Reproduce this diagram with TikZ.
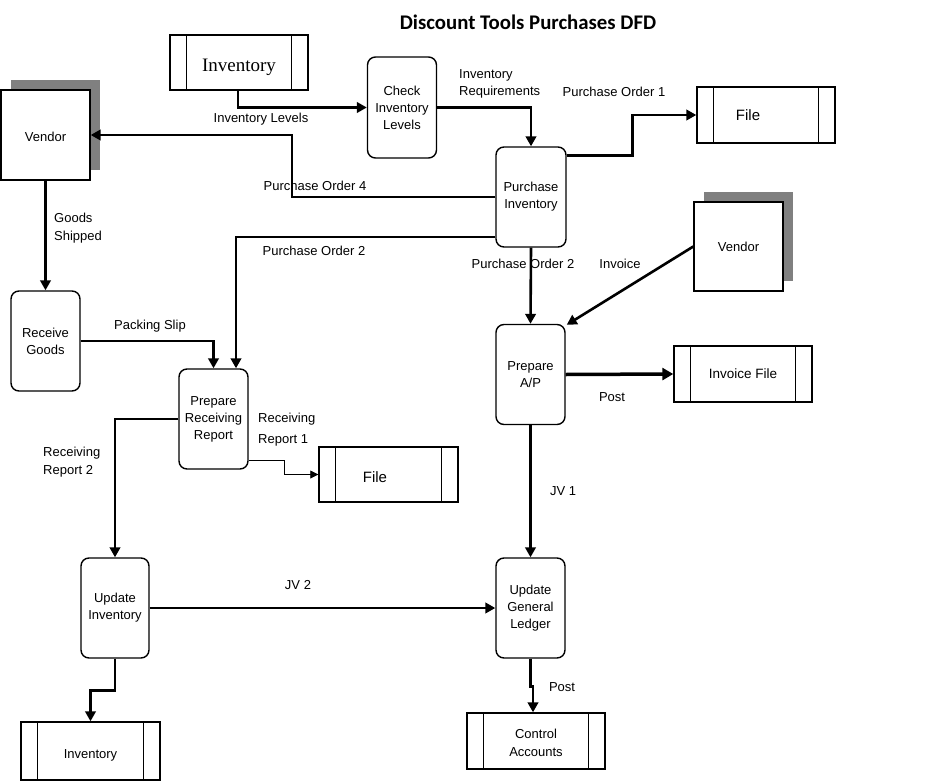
\documentclass[tikz,border=0pt]{standalone}
\usepackage{fontspec}
\setmainfont{Liberation Sans}
\newfontfamily\titlefont{Carlito}
\newfontfamily\serifinv{Liberation Serif}
\usetikzlibrary{arrows.meta,shadows,calc}
\definecolor{shadowgray}{RGB}{128,128,128}
\newcommand{\lowerby}[2]{\raisebox{-#1}[\height][\depth]{#2}}
\tikzset{
  base/.style={draw, line width=1.4pt, inner sep=0pt, align=center, font=\fontsize{13}{17}\selectfont},
  proc/.style={base, rounded corners=8pt, minimum width=69pt, minimum height=100pt},
  extent/.style={base, fill=white, minimum width=89pt, minimum height=89pt,
     general shadow={fill=shadowgray, shadow xshift=10pt, shadow yshift=10pt}},
  store/.style={base, minimum width=138pt, minimum height=56pt,
     path picture={
       \draw[line width=1.4pt] ([xshift=16.5pt]path picture bounding box.north west) -- ([xshift=16.5pt]path picture bounding box.south west);
       \draw[line width=1.4pt] ([xshift=-16.5pt]path picture bounding box.north east) -- ([xshift=-16.5pt]path picture bounding box.south east);
     }},
  flow/.style={line width=2.6pt, -{Triangle[length=10pt,width=10.5pt]}},
  thinflow/.style={line width=0.8pt, -{Triangle[length=8pt,width=8pt]}},
  lbl/.style={inner sep=0pt, font=\fontsize{13}{19}\selectfont},
}
\begin{document}
\begin{tikzpicture}[x=1pt,y=-1pt]
\useasboundingbox (0,0) rectangle (936,781);
% title
\node[inner sep=0pt, font=\titlefont\bfseries\fontsize{20.8}{22}\selectfont] (title) at (528,22) {Discount Tools Purchases DFD};
% nodes
\node[store, minimum width=138pt, minimum height=55pt, font=\serifinv\fontsize{19}{20}\selectfont] (invTop) at (239,62.5) {\lowerby{5pt}{Inventory}};
\node[extent, minimum width=89pt, minimum height=90pt] (vendL) at (45.5,135) {\lowerby{2pt}{Vendor}};
\node[proc, minimum height=101pt] (check) at (402,107.5) {Check\\Inventory\\Levels};
\node[proc, minimum width=70pt] (purch) at (531,197) {Purchase\\Inventory};
\node[store, font=\fontsize{15}{17}\selectfont] (file1) at (766,115) {\hspace*{-36pt}File};
\node[extent] (vendR) at (738.5,246.5) {Vendor};
\node[proc] (recv) at (45.5,341) {Receive\\Goods};
\node[proc] (prr) at (213.5,419) {Prepare\\Receiving\\Report};
\node[store, minimum width=139pt, minimum height=55pt, font=\fontsize{15}{17}\selectfont] (file2) at (388.5,474.5) {\hspace*{-27pt}\lowerby{3pt}{File}};
\node[proc] (prepAP) at (530.5,374.5) {Prepare\\A/P};
\node[store, font=\fontsize{13.5}{17}\selectfont] (invfile) at (743,374) {Invoice File};
\node[proc, minimum width=68pt] (updInv) at (115,608) {Update\\Inventory};
\node[proc] (ugl) at (530.5,608) {Update\\General\\Ledger};
\node[store, minimum width=139pt, minimum height=58pt] (invBot) at (90.5,751) {\lowerby{4pt}{Inventory}};
\node[store, font=\fontsize{13}{18}\selectfont] (ctrl) at (536,741) {\lowerby{3pt}{\begin{tabular}{@{}c@{}}Control\\Accounts\end{tabular}}};
% connectors
\draw[flow] ([xshift=-1pt]invTop.south) |- (check.west);
\draw[flow] (check.east) -| (purch.north);
\draw[flow] ([yshift=-9pt]purch.north east) -- ++(66,0) |- (file1.west);
\coordinate (b4) at (292,135);
\draw[flow] (purch.west) -| (b4) -- (vendL.east);
\draw[flow] ([yshift=-40pt]purch.west) -| ([xshift=22.5pt]prr.north);
\draw[flow] (purch.south) -- (prepAP.north);
\draw[flow] (vendR.west) -- ([xshift=1pt,yshift=-1pt]prepAP.north east);
\draw[flow] (vendL.south) -- (recv.north);
\draw[flow] (recv.east) -| (prr.north);
\draw[thinflow] ([yshift=9pt]prr.south east) -- ++(36,0) |- (file2.west);
\draw[flow] (prr.west) -| (updInv.north);
\draw[flow] (updInv.east) -- (ugl.west);
\draw[flow] (prepAP.south) -- (ugl.north);
\draw[line width=3.5pt, -{Triangle[length=11pt,width=12pt]}] (prepAP.east) -- (invfile.west);
\draw[flow] (updInv.south) -- ++(0,32) -| (invBot.north);
\draw[flow] (ugl.south) -- ++(0,28) -| ([xshift=-3pt]ctrl.north);
% labels
\node[lbl] (l1) at (261,119) {Inventory Levels};
\node[lbl, anchor=west, align=left, font=\fontsize{13}{17}\selectfont] (l2) at (459,84) {Inventory\\Requirements};
\node[lbl] (l3) at (614,92) {Purchase Order 1};
\node[lbl] (l4) at (315,186) {Purchase Order 4};
\node[lbl] (l5) at (314,251) {Purchase Order 2};
\node[lbl] (l6) at (523,264) {Purchase Order 2};
\node[lbl] (l7) at (620,264) {Invoice};
\node[lbl, anchor=west, align=left, font=\fontsize{13}{18}\selectfont] (l8) at (54,228) {Goods\\Shipped};
\node[lbl] (l9) at (150,326) {Packing Slip};
\node[lbl, anchor=west, align=left, font=\fontsize{13}{21}\selectfont] (l10) at (258,430) {Receiving\\Report 1};
\node[lbl, anchor=west, align=left, font=\fontsize{13}{18}\selectfont] (l11) at (43,462) {Receiving\\Report 2};
\node[lbl] (l12) at (612,397) {Post};
\node[lbl] (l13) at (563,491) {JV 1};
\node[lbl] (l14) at (298,585) {JV 2};
\node[lbl] (l15) at (562,687) {Post};
\end{tikzpicture}
\end{document}
